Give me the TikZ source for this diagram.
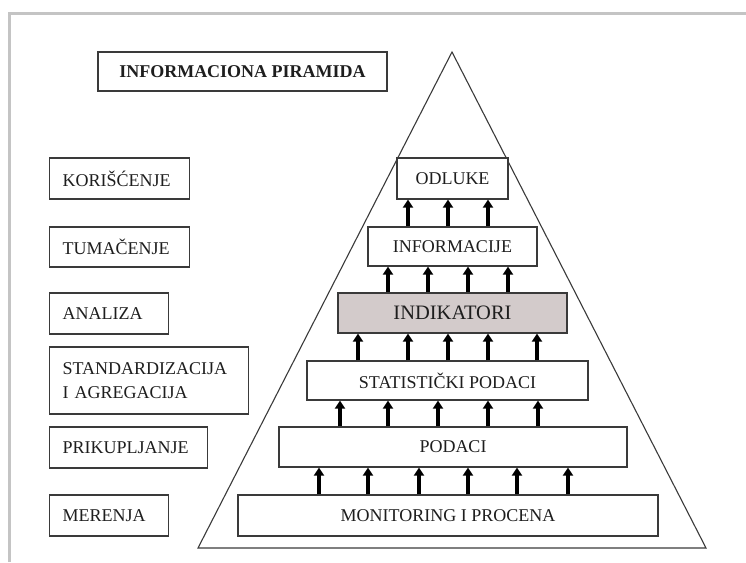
\documentclass[tikz,border=0pt]{standalone}
\usepackage{fontspec}
\setmainfont{Liberation Serif}
\usetikzlibrary{arrows.meta}
\definecolor{framegray}{HTML}{C4C4C4}
\definecolor{linegray}{HTML}{3A3A3A}
\definecolor{indfill}{HTML}{D3CBCB}
\definecolor{textgray}{HTML}{1E1E1E}

\begin{document}
\begin{tikzpicture}[x=1pt,y=-1pt,
  lvl/.style={draw=linegray,line width=1.2pt,fill=white,inner sep=0pt,text=textgray,
    font=\fontsize{18}{24}\selectfont},
  stage/.style={lvl,align=left,inner xsep=13pt,anchor=west},
  up/.style={line width=3.2pt,-{Triangle[width=10pt,length=8pt]}}]
  \useasboundingbox (0,0) rectangle (746,562);
  % frame
  \draw[framegray,line width=3pt] (9.5,562) -- (9.5,13.5) -- (746,13.5);
  % pyramid
  \draw[linegray,line width=1.1pt] (452,52) -- (706,548) -- (198,548) -- cycle;
  % title
  \node[lvl,font=\fontsize{18}{21}\selectfont\bfseries,minimum width=289pt,minimum height=39pt]
    (title) at (242.5,71.5) {INFORMACIONA PIRAMIDA};
  % stages
  \node[stage,text width=114pt,minimum height=41pt] (koris) at (49,178.5) {KORIŠĆENJE};
  \node[stage,text width=114pt,minimum height=40pt] (tumac) at (49,247) {TUMAČENJE};
  \node[stage,text width=93pt,minimum height=41pt] (anal) at (49,313.5) {ANALIZA};
  \node[stage,text width=173pt,minimum height=67pt] (stand) at (49,380.5) {STANDARDIZACIJA\\I AGREGACIJA};
  \node[stage,text width=132pt,minimum height=41pt] (prik) at (49,447.5) {PRIKUPLJANJE};
  \node[stage,text width=93pt,minimum height=41pt] (mer) at (49,515.5) {MERENJA};
  % levels
  \node[lvl,minimum width=111pt,minimum height=41pt] (odluke) at (452.5,178.5) {ODLUKE};
  \node[lvl,minimum width=169pt,minimum height=39pt] (inform) at (452.5,246.5) {INFORMACIJE};
  \node[lvl,fill=indfill,font=\fontsize{20.5}{24}\selectfont,minimum width=229pt,minimum height=40pt]
    (indik) at (452.5,313) {INDIKATORI};
  \node[lvl,minimum width=281pt,minimum height=39pt] (stat) at (447.5,380.5) {STATISTIČKI PODACI};
  \node[lvl,minimum width=348pt,minimum height=40pt] (podaci) at (453,447) {PODACI};
  \node[lvl,minimum width=420pt,minimum height=41pt] (monit) at (448,515.5) {MONITORING I PROCENA};
  % arrows
  \foreach \ax in {408,448,488}
    \draw[up] (\ax,0 |- inform.north) -- (\ax,0 |- odluke.south);
  \foreach \ax in {388,428,468,508}
    \draw[up] (\ax,0 |- indik.north) -- (\ax,0 |- inform.south);
  \foreach \ax in {358,408,448,488,537}
    \draw[up] (\ax,0 |- stat.north) -- (\ax,0 |- indik.south);
  \foreach \ax in {340,388,438,488,538}
    \draw[up] (\ax,0 |- podaci.north) -- (\ax,0 |- stat.south);
  \foreach \ax in {319,368,419,468,517,568}
    \draw[up] (\ax,0 |- monit.north) -- (\ax,0 |- podaci.south);
\end{tikzpicture}
\end{document}
